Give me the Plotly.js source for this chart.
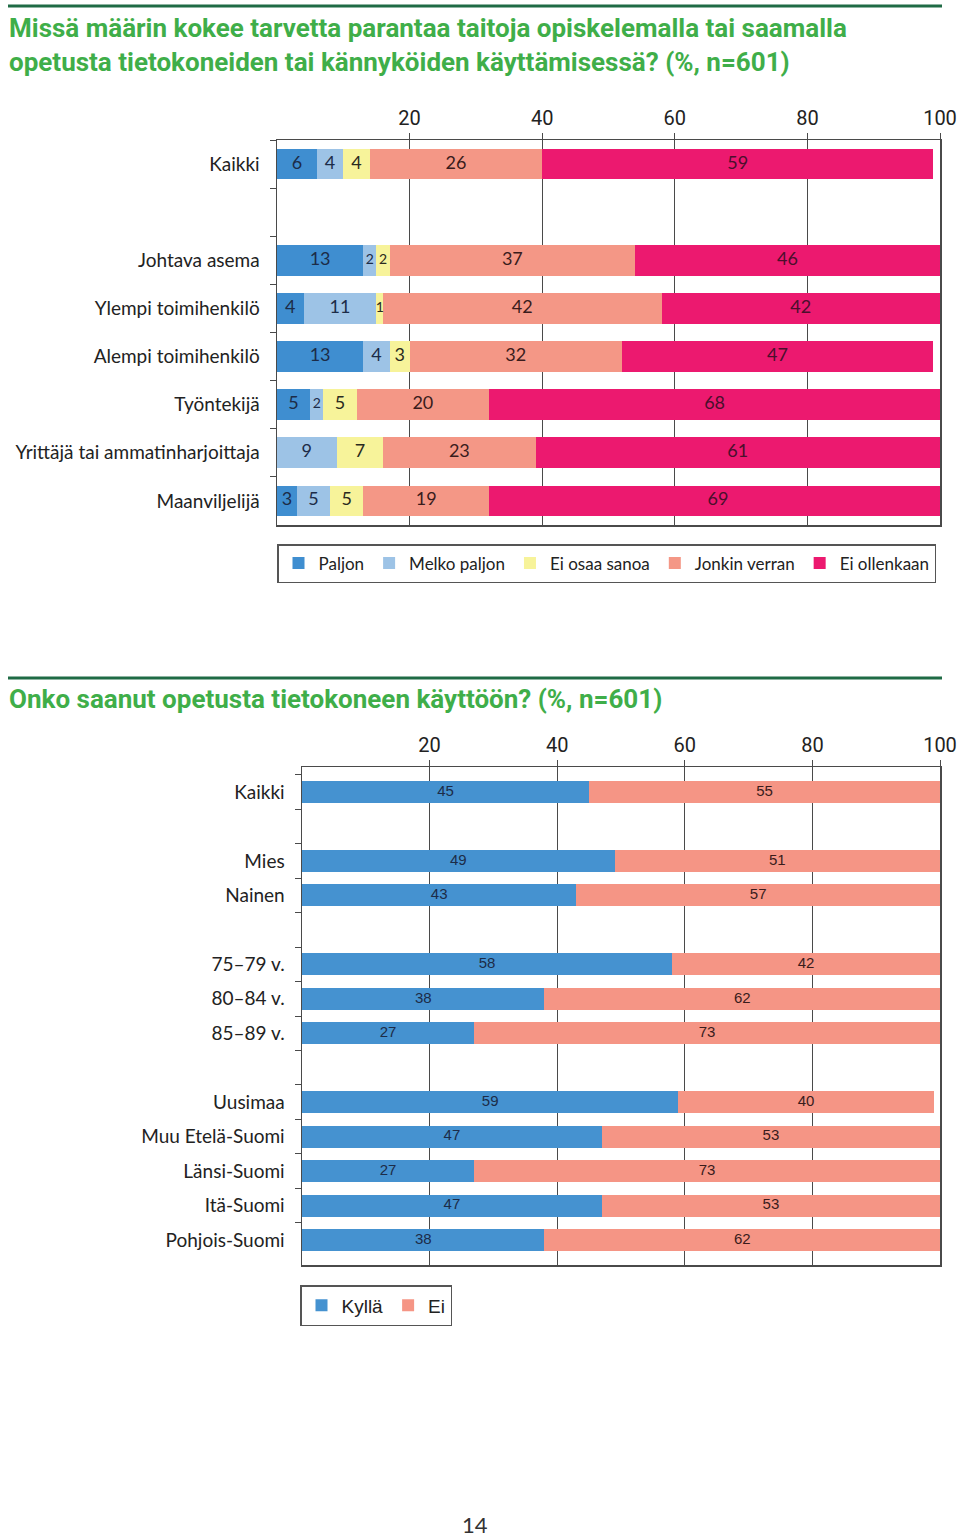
<!DOCTYPE html>
<html><head><meta charset="utf-8">
<script src="https://cdn.plot.ly/plotly-3.0.1.min.js"></script>
<style>body{margin:0;background:#fff}#chart{width:960px;height:1540px}</style>
</head><body><div id="chart"></div>
<script>
// ---------- Chart 1 data ----------
const cat1 = ['Kaikki', ' ', 'Johtava asema', 'Ylempi toimihenkilö', 'Alempi toimihenkilö', 'Työntekijä', 'Yrittäjä tai ammatinharjoittaja', 'Maanviljelijä'];
const series1Names = ['Paljon', 'Melko paljon', 'Ei osaa sanoa', 'Jonkin verran', 'Ei ollenkaan'];
const paljon      = [6, null, 13, 4, 13, 5, 0, 3];
const melkoPaljon = [4, null, 2, 11, 4, 2, 9, 5];
const eiOsaaSanoa = [4, null, 2, 1, 3, 5, 7, 5];
const jonkinVerran= [26, null, 37, 42, 32, 20, 23, 19];
const eiOllenkaan = [59, null, 46, 42, 47, 68, 61, 69];
const xTicks = [20, 40, 60, 80, 100];

// ---------- Chart 2 data ----------
const cat2 = ['Kaikki', ' ', 'Mies', 'Nainen', '  ', '75–79 v.', '80–84 v.', '85–89 v.', '   ', 'Uusimaa', 'Muu Etelä-Suomi', 'Länsi-Suomi', 'Itä-Suomi', 'Pohjois-Suomi'];
const series2Names = ['Kyllä', 'Ei'];
const kylla = [45, null, 49, 43, null, 58, 38, 27, null, 59, 47, 27, 47, 38];
const ei    = [55, null, 51, 57, null, 42, 62, 73, null, 40, 53, 73, 53, 62];

// ---------- styles ----------
const colors1 = ['#3f8ed0', '#9dc3e6', '#f7f39a', '#f49786', '#ec196f'];
const textColors1 = ['#1c2c48', '#1c2c48', '#2a2a20', '#3a1c1c', '#4a0f2c'];
const colors2 = ['#4592d0', '#f59585'];
const textColors2 = ['#1c2c48', '#3a1c1c'];
const condensed = 'Roboto, "Liberation Sans Narrow", sans-serif';
const human = 'Lato, "Open Sans", sans-serif';
const green = '#3fae49';

const H = 1540, W = 960;
const py = px => 1 - px / H;
const pxX = px => px / W;

const data = [];
const s1 = [paljon, melkoPaljon, eiOsaaSanoa, jonkinVerran, eiOllenkaan];
s1.forEach((vals, i) => {
  data.push({
    type: 'bar', orientation: 'h', x: vals, y: cat1, name: series1Names[i],
    marker: {color: colors1[i], line: {width: 0}},
    xaxis: 'x', yaxis: 'y', legend: 'legend', hoverinfo: 'x+name'
  });
});
// labels chart1
s1.forEach((vals, i) => {
  const xs = [], ys = [], ts = [], sz = [];
  vals.forEach((v, j) => {
    if (v === null || v === 0) return;
    let start = 0;
    for (let k = 0; k < i; k++) start += (s1[k][j] || 0);
    xs.push(start + v / 2); ys.push(cat1[j]); ts.push(String(v));
    sz.push(v <= 2 ? 14 : 18);
  });
  data.push({
    type: 'scatter', mode: 'text', x: xs, y: ys, text: ts,
    textfont: {family: human, size: sz, color: textColors1[i]},
    xaxis: 'x', yaxis: 'y', showlegend: false, hoverinfo: 'skip', cliponaxis: false
  });
});

const s2 = [kylla, ei];
s2.forEach((vals, i) => {
  data.push({
    type: 'bar', orientation: 'h', x: vals, y: cat2, name: series2Names[i],
    marker: {color: colors2[i], line: {width: 0}},
    xaxis: 'x2', yaxis: 'y2', legend: 'legend2', hoverinfo: 'x+name'
  });
});
s2.forEach((vals, i) => {
  const xs = [], ys = [], ts = [];
  vals.forEach((v, j) => {
    if (v === null) return;
    let start = 0;
    for (let k = 0; k < i; k++) start += (s2[k][j] || 0);
    xs.push(start + v / 2); ys.push(cat2[j]); ts.push(String(v));
  });
  data.push({
    type: 'scatter', mode: 'text', x: xs, y: ys, text: ts,
    textfont: {family: '"Liberation Sans", Arial, sans-serif', size: 15, color: textColors2[i]},
    xaxis: 'x2', yaxis: 'y2', showlegend: false, hoverinfo: 'skip', cliponaxis: false
  });
});

const xCommon = {
  range: [0, 100], side: 'top', tickvals: xTicks, ticktext: xTicks.map(String),
  showgrid: true, gridcolor: '#4a4a4a', gridwidth: 1, zeroline: false,
  showline: true, mirror: true, linecolor: '#4a4a4a', linewidth: 1.5,
  ticks: 'outside', ticklen: 6, tickcolor: '#4a4a4a',
  tickfont: {family: condensed, size: 20, color: '#222'}, fixedrange: true
};
const yCommon = {
  type: 'category', autorange: 'reversed', categoryorder: 'array',
  showgrid: false, zeroline: false, showline: true, mirror: true,
  linecolor: '#4a4a4a', linewidth: 1.5,
  ticks: 'outside', tickson: 'boundaries', ticklen: 6, tickcolor: '#4a4a4a',
  tickfont: {family: human, size: 19, color: '#222'}, ticklabelstandoff: 12, fixedrange: true
};

const layout = {
  width: W, height: H, margin: {l: 0, r: 0, t: 0, b: 0},
  paper_bgcolor: '#fff', plot_bgcolor: '#fff',
  barmode: 'stack', bargap: 0.36,
  xaxis: Object.assign({}, xCommon, {domain: [pxX(277), pxX(940)], anchor: 'y'}),
  yaxis: Object.assign({}, yCommon, {domain: [py(525), py(140)], anchor: 'x', categoryarray: cat1}),
  xaxis2: Object.assign({}, xCommon, {domain: [pxX(302), pxX(940)], anchor: 'y2'}),
  yaxis2: Object.assign({}, yCommon, {domain: [py(1265), py(767)], anchor: 'x2', categoryarray: cat2}),
  legend: {
    orientation: 'h', x: pxX(277), xanchor: 'left', y: py(544), yanchor: 'top',
    bordercolor: '#555', borderwidth: 1.5, itemwidth: 30, traceorder: 'normal',
    font: {family: human, size: 17, color: '#222'}, itemclick: false, itemdoubleclick: false
  },
  legend2: {
    orientation: 'h', x: pxX(300), xanchor: 'left', y: py(1285), yanchor: 'top',
    bordercolor: '#555', borderwidth: 1.5, itemwidth: 30, traceorder: 'normal',
    font: {family: '"Liberation Sans", Arial, sans-serif', size: 19, color: '#222'},
    itemclick: false, itemdoubleclick: false
  },
  shapes: [
    {type: 'line', xref: 'paper', yref: 'paper', x0: pxX(8), x1: pxX(942), y0: py(6), y1: py(6), line: {color: '#1f6b45', width: 3}},
    {type: 'line', xref: 'paper', yref: 'paper', x0: pxX(8), x1: pxX(942), y0: py(678), y1: py(678), line: {color: '#1f6b45', width: 3}}
  ],
  annotations: [
    {text: 'Missä määrin kokee tarvetta parantaa taitoja opiskelemalla tai saamalla<br>opetusta tietokoneiden tai kännyköiden käyttämisessä? (%, n=601)',
     xref: 'paper', yref: 'paper', x: pxX(7), xanchor: 'left', align: 'left', y: py(11), yanchor: 'top',
     showarrow: false, font: {family: condensed, size: 26, color: green, weight: 'bold'}},
    {text: 'Onko saanut opetusta tietokoneen käyttöön? (%, n=601)', xref: 'paper', yref: 'paper',
     x: pxX(7), xanchor: 'left', y: py(699), yanchor: 'middle', showarrow: false,
     font: {family: condensed, size: 26, color: green, weight: 'bold'}},
    {text: '14', xref: 'paper', yref: 'paper', x: pxX(475), xanchor: 'center', y: py(1524), yanchor: 'middle',
     showarrow: false, font: {family: human, size: 22, color: '#333'}}
  ]
};

Plotly.newPlot('chart', data, layout, {displayModeBar: false, staticPlot: true});
</script></body></html>
